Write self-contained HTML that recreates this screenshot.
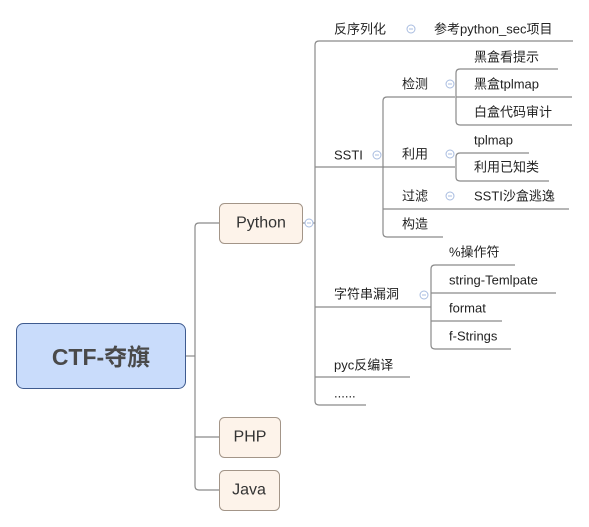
<!DOCTYPE html>
<html><head><meta charset="utf-8"><style>
html,body{margin:0;padding:0;background:#fff;}
svg{display:block;}
text{font-family:"Liberation Sans","Noto Sans CJK SC",sans-serif;font-size:13px;fill:#222;dominant-baseline:central;}
</style></head><body>
<svg width="589" height="527" viewBox="0 0 589 527" xmlns="http://www.w3.org/2000/svg">
<g fill="none" stroke="#8a8a8a" stroke-width="1.2">
<!-- root connectors -->
<path d="M185 356H195"/>
<path d="M219 223H199Q195 223 195 227V486Q195 490 199 490H219"/>
<path d="M195 437H219"/>
<!-- python trunk -->
<path d="M302 223H315"/>
<path d="M573 41H319Q315 41 315 45V401Q315 405 319 405H366"/>
<path d="M315 167H384"/>
<path d="M315 307H431"/>
<path d="M315 377H410"/>
<!-- SSTI children -->
<path d="M455 97H387Q383 97 383 101V233Q383 237 387 237H443"/>
<path d="M383 167H455"/>
<path d="M383 209H569"/>
<!-- 检测 children -->
<path d="M558 69H460Q456 69 456 73V121Q456 125 460 125H572"/>
<path d="M456 97H572"/>
<!-- 利用 children -->
<path d="M529 153H460Q456 153 456 157V177Q456 181 460 181H549"/>
<!-- 字符串 children -->
<path d="M515 265H435Q431 265 431 269V345Q431 349 435 349H511"/>
<path d="M431 293H556"/>
<path d="M431 321H502"/>
</g>
<!-- collapse icons -->
<g fill="#fff" stroke="#a8bce0" stroke-width="1">
<circle cx="309" cy="223" r="4"/><circle cx="411" cy="29" r="4"/><circle cx="377" cy="155" r="4"/>
<circle cx="450" cy="84" r="4"/><circle cx="450" cy="154" r="4"/><circle cx="450" cy="196" r="4"/>
<circle cx="424" cy="295" r="4"/>
</g>
<g stroke="#a8bce0" stroke-width="1">
<path d="M307 223h4M409 29h4M375 155h4M448 84h4M448 154h4M448 196h4M422 295h4"/>
</g>
<!-- boxes -->
<rect x="16.5" y="323.5" width="169" height="65" rx="7" fill="#c9dcfb" stroke="#3f5b8f"/>
<text x="101" y="357" text-anchor="middle" style="font-size:23px;font-weight:bold;fill:#4a4a4a">CTF-夺旗</text>
<rect x="219.5" y="203.5" width="83" height="40" rx="5" fill="#fdf3ea" stroke="#a39588"/>
<text x="261" y="223" text-anchor="middle" style="font-size:16px;fill:#333">Python</text>
<rect x="219.5" y="417.5" width="61" height="40" rx="5" fill="#fdf3ea" stroke="#a39588"/>
<text x="250" y="437" text-anchor="middle" style="font-size:16px;fill:#333">PHP</text>
<rect x="219.5" y="470.5" width="60" height="40" rx="5" fill="#fdf3ea" stroke="#a39588"/>
<text x="249" y="490" text-anchor="middle" style="font-size:16px;fill:#333">Java</text>
<!-- labels -->
<text x="334" y="29">反序列化</text>
<text x="434" y="29">参考python_sec项目</text>
<text x="334" y="155">SSTI</text>
<text x="402" y="84">检测</text>
<text x="474" y="57">黑盒看提示</text>
<text x="474" y="84">黑盒tplmap</text>
<text x="474" y="112">白盒代码审计</text>
<text x="402" y="154">利用</text>
<text x="474" y="140">tplmap</text>
<text x="474" y="167">利用已知类</text>
<text x="402" y="196">过滤</text>
<text x="474" y="196">SSTI沙盒逃逸</text>
<text x="402" y="224">构造</text>
<text x="334" y="294">字符串漏洞</text>
<text x="449" y="252">%操作符</text>
<text x="449" y="280">string-Temlpate</text>
<text x="449" y="308">format</text>
<text x="449" y="336">f-Strings</text>
<text x="334" y="365">pyc反编译</text>
<text x="334" y="393">......</text>
</svg>
</body></html>
